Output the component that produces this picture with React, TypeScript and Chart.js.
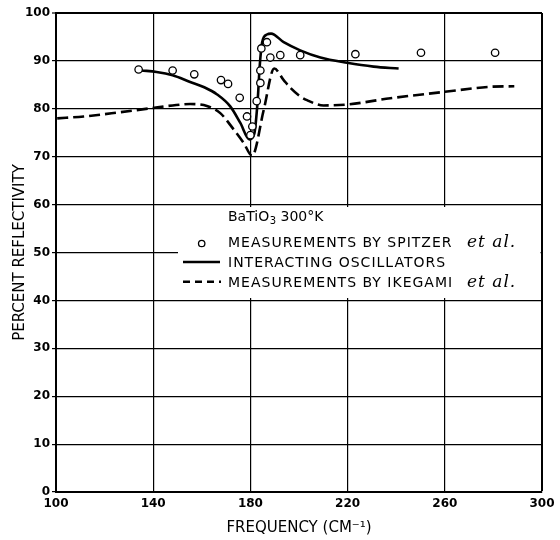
import React, { useEffect, useRef } from "react";
import { Chart, registerables } from "chart.js";

Chart.register(...registerables);

// Measurements by Spitzer et al. (open circles)
const spitzerFreq = [134.0, 148.0, 156.9, 167.9, 170.8, 175.6, 178.6, 180.8, 180.0, 182.6, 184.1, 184.1, 184.5, 186.8, 188.2, 192.3, 200.5, 223.2, 250.2, 280.7];
const spitzerRefl = [88.2, 88.0, 87.2, 86.0, 85.2, 82.3, 78.4, 76.3, 74.5, 81.6, 85.4, 88.0, 92.6, 93.9, 90.7, 91.2, 91.2, 91.4, 91.7, 91.7];

// Interacting oscillators (solid line)
const oscFreq = [135.2, 141.4, 148.0, 155.2, 161.0, 166.3, 171.7, 175.8, 179.6, 181.6, 183.0, 183.8, 184.8, 186.8, 188.5, 193.7, 200.5, 208.8, 219.8, 230.7, 241.0];
const oscRefl = [88.0, 87.7, 87.0, 85.6, 84.5, 83.0, 80.5, 77.1, 73.6, 74.8, 81.8, 88.7, 93.8, 95.5, 95.7, 93.9, 92.2, 90.7, 89.6, 88.8, 88.4];

// Measurements by Ikegami et al. (dashed line)
const ikeFreq = [100.5, 111.4, 125.1, 138.8, 148.0, 155.2, 162.1, 167.6, 173.1, 177.2, 180.7, 185.5, 189.8, 193.7, 196.4, 200.5, 203.3, 210.1, 219.8, 237.6, 260.9, 278.8, 288.6];
const ikeRefl = [78.0, 78.4, 79.2, 80.1, 80.7, 81.0, 80.6, 79.1, 75.7, 72.9, 70.2, 79.8, 88.4, 86.0, 84.4, 82.6, 81.8, 80.7, 80.9, 82.2, 83.6, 84.6, 84.7];

const xMin = 100;
const xMax = 300;
const xStep = 40;
const yMin = 0;
const yMax = 100;
const yStep = 10;

const xTitle = "FREQUENCY (CM\u207B\u00B9)";
const yTitle = "PERCENT REFLECTIVITY";
const legendHeader = ["BaTiO", "3", " 300\u00B0K"];
const legendRows = [
  { text: "MEASUREMENTS BY SPITZER", etal: true },
  { text: "INTERACTING OSCILLATORS", etal: false },
  { text: "MEASUREMENTS BY IKEGAMI", etal: true },
];

const toPoints = (xs: number[], ys: number[]) => xs.map((x, i) => ({ x, y: ys[i] }));

const legendPlugin = {
  id: "bodyLegend",
  beforeDatasetsDraw(chart: any) {
    const ctx = chart.ctx as CanvasRenderingContext2D;
    const a = chart.chartArea;
    ctx.save();
    ctx.fillStyle = "#ffffff";
    ctx.fillRect(178, 207, a.right - 1.5 - 178, 91);

    ctx.fillStyle = "#000";
    ctx.strokeStyle = "#000";
    ctx.textBaseline = "alphabetic";
    ctx.textAlign = "left";

    // header: BaTiO3 300°K
    let x = 228;
    ctx.font = "14px 'DejaVu Sans'";
    ctx.fillText(legendHeader[0], x, 221);
    x += ctx.measureText(legendHeader[0]).width + 0.5;
    ctx.font = "10px 'DejaVu Sans'";
    ctx.fillText(legendHeader[1], x, 224);
    x += ctx.measureText(legendHeader[1]).width;
    ctx.font = "14px 'DejaVu Sans'";
    ctx.fillText(legendHeader[2], x, 221);

    const baselines = [246.7, 266.7, 286.7];
    const symY = [243.5, 262, 281.7];

    // symbols
    ctx.lineWidth = 1.3;
    ctx.beginPath();
    ctx.arc(201.7, symY[0], 3.2, 0, Math.PI * 2);
    ctx.stroke();

    ctx.lineWidth = 2.5;
    ctx.beginPath();
    ctx.moveTo(183, symY[1]);
    ctx.lineTo(220, symY[1]);
    ctx.stroke();

    ctx.setLineDash([7, 5]);
    ctx.beginPath();
    ctx.moveTo(183, symY[2]);
    ctx.lineTo(221, symY[2]);
    ctx.stroke();
    ctx.setLineDash([]);

    legendRows.forEach((row, i) => {
      ctx.font = "14px 'DejaVu Sans'";
      (ctx as any).letterSpacing = "1px";
      ctx.fillText(row.text, 228, baselines[i]);
      if (row.etal) {
        ctx.font = "italic 17px 'DejaVu Serif'";
        (ctx as any).letterSpacing = "1px";
        ctx.fillText("et al.", 467, baselines[i]);
      }
      (ctx as any).letterSpacing = "0px";
    });
    ctx.restore();
  },
};

export default function App() {
  const canvasRef = useRef<HTMLCanvasElement | null>(null);

  useEffect(() => {
    if (!canvasRef.current) return;
    const edgeWidth = (ctx: any, max: number) => (ctx.tick && ctx.tick.value === max ? 2 : 1.2);
    const chart = new Chart(canvasRef.current, {
      type: "line",
      data: {
        datasets: [
          {
            label: "Measurements by Spitzer et al.",
            data: toPoints(spitzerFreq, spitzerRefl),
            showLine: false,
            pointStyle: "circle",
            pointRadius: 3.7,
            pointBorderWidth: 1.3,
            pointBackgroundColor: "#ffffff",
            pointBorderColor: "#000000",
            borderColor: "#000000",
            backgroundColor: "#ffffff",
            order: 0,
          },
          {
            label: "Interacting oscillators",
            data: toPoints(oscFreq, oscRefl),
            borderColor: "#000000",
            borderWidth: 2.6,
            pointRadius: 0,
            cubicInterpolationMode: "monotone",
            fill: false,
            order: 1,
          },
          {
            label: "Measurements by Ikegami et al.",
            data: toPoints(ikeFreq, ikeRefl),
            borderColor: "#000000",
            borderWidth: 2.6,
            borderDash: [11, 5],
            pointRadius: 0,
            cubicInterpolationMode: "monotone",
            fill: false,
            order: 2,
          },
        ],
      },
      options: {
        responsive: false,
        animation: false,
        devicePixelRatio: 1,
        layout: { padding: { top: 13, right: 18, left: 0, bottom: 0 } },
        plugins: {
          legend: { display: false },
          tooltip: { enabled: false },
          title: { display: false },
        },
        scales: {
          x: {
            type: "linear",
            min: xMin,
            max: xMax,
            ticks: {
              stepSize: xStep,
              color: "#000",
              padding: 5,
              maxRotation: 0,
              font: { family: "'DejaVu Sans'", size: 12, weight: "bold" },
            },
            grid: {
              color: "#000",
              lineWidth: (ctx: any) => edgeWidth(ctx, xMax),
              drawTicks: false,
            },
            border: { color: "#000", width: 2 },
            title: {
              display: true,
              text: xTitle,
              color: "#000",
              font: { family: "'DejaVu Sans'", size: 15 },
              padding: { top: 0, bottom: 3 },
            },
            afterFit: (scale: any) => {
              scale.height = 48;
            },
          },
          y: {
            type: "linear",
            min: yMin,
            max: yMax,
            ticks: {
              stepSize: yStep,
              color: "#000",
              padding: 2,
              font: { family: "'DejaVu Sans'", size: 12, weight: "bold" },
            },
            grid: {
              color: "#000",
              lineWidth: (ctx: any) => edgeWidth(ctx, yMax),
              tickLength: 4,
              tickWidth: 1.2,
              tickColor: "#000",
            },
            border: { color: "#000", width: 2 },
            title: {
              display: true,
              text: yTitle,
              color: "#000",
              font: { family: "'DejaVu Sans'", size: 15 },
              padding: { top: 11, bottom: 0 },
            },
            afterFit: (scale: any) => {
              scale.width = 56;
            },
          },
        },
      },
      plugins: [legendPlugin],
    } as any);
    return () => chart.destroy();
  }, []);

  return (
    <div style={{ position: "fixed", left: 0, top: 0, width: 560, height: 540, background: "#fff" }}>
      <canvas ref={canvasRef} width={560} height={540} style={{ display: "block" }} />
    </div>
  );
}
